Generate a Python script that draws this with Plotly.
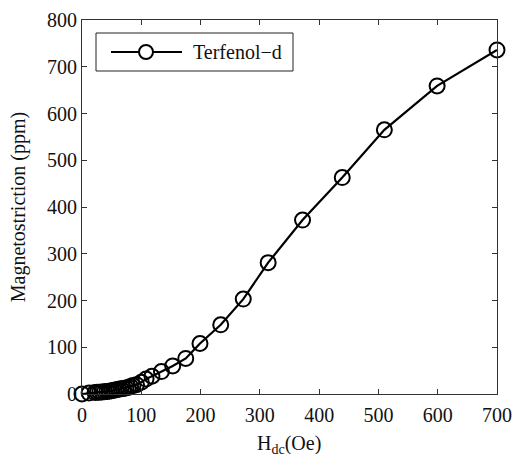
import plotly.graph_objects as go

h_dc = [0, 12, 22, 26, 30, 34, 38, 42, 46, 50, 54, 58, 62, 66, 70, 74, 78, 82, 86,
        92, 100, 108, 118, 134, 153, 175, 199, 234, 272, 314, 372, 439, 510, 599, 700]
strain = [0, 2, 3, 3.5, 4, 4.5, 5, 5.5, 6, 7, 8, 9, 10, 11, 12, 13, 14, 16, 18,
          20, 25, 32, 38, 48, 60, 76, 108, 148, 203, 281, 372, 463, 565, 659, 736]
series_name = "Terfenol\u2212d"
x_ticks = [0, 100, 200, 300, 400, 500, 600, 700]
y_ticks = [0, 100, 200, 300, 400, 500, 600, 700, 800]

FONT = "Liberation Serif"
W, H = 515, 454
L, R, T, B = 82, 18, 20, 60
pw, ph = W - L - R, H - T - B

fig = go.Figure()
fig.add_trace(go.Scatter(
    x=h_dc, y=strain, mode="lines+markers", name=series_name,
    line=dict(color="black", width=2.2),
    marker=dict(symbol="circle-open", size=15, color="black", line=dict(width=2)),
    cliponaxis=False, showlegend=False,
))

axis_common = dict(
    showline=True, linecolor="#333", linewidth=1, mirror="ticks",
    ticks="inside", ticklen=5, tickcolor="#333", showgrid=False, zeroline=False,
    tickfont=dict(family=FONT, size=20, color="#111"),
)
fig.update_xaxes(range=[0, 700], tickvals=x_ticks, ticklabelstandoff=3, **axis_common)
fig.update_yaxes(range=[0, 800], tickvals=y_ticks,
                 title=dict(text="Magnetostriction (ppm)", font=dict(family=FONT, size=20, color="#111"), standoff=16),
                 **axis_common)

def px2paper(px, py):
    return (px - L) / pw, (H - B - py) / ph

# manual legend
x0, y0 = px2paper(96, 33)
x1, y1 = px2paper(293, 71)
fig.add_shape(type="rect", xref="paper", yref="paper", x0=x0, y0=y1, x1=x1, y1=y0,
              line=dict(color="#222", width=1), fillcolor="white")
lx0, ly = px2paper(111, 52)
lx1, _ = px2paper(182, 52)
fig.add_shape(type="line", xref="paper", yref="paper", x0=lx0, y0=ly, x1=lx1, y1=ly,
              line=dict(color="black", width=2.2))
cx, cy = px2paper(146, 52)
r = 7
fig.add_shape(type="circle", xref="paper", yref="paper",
              x0=cx - r / pw, x1=cx + r / pw, y0=cy - r / ph, y1=cy + r / ph,
              line=dict(color="black", width=2), fillcolor="white")
tx, ty = px2paper(191, 52)
fig.add_annotation(xref="paper", yref="paper", x=tx, y=ty, xanchor="left", yanchor="middle",
                   text=series_name, showarrow=False, font=dict(family=FONT, size=20, color="#111"))

# x title
ax, ay = px2paper(289, 430)
fig.add_annotation(xref="paper", yref="paper", x=ax, y=ay, xanchor="center", yanchor="top",
                   text="H<sub>dc</sub>(Oe)", showarrow=False, font=dict(family=FONT, size=20, color="#111"))

fig.update_layout(
    width=W, height=H, margin=dict(l=L, r=R, t=T, b=B, autoexpand=False),
    paper_bgcolor="white", plot_bgcolor="white",
    font=dict(family=FONT, size=20, color="#111"),
)
fig.write_html("out.html", config={"displayModeBar": False},
               post_script="document.body.style.margin='0';document.body.style.overflow='hidden';")
